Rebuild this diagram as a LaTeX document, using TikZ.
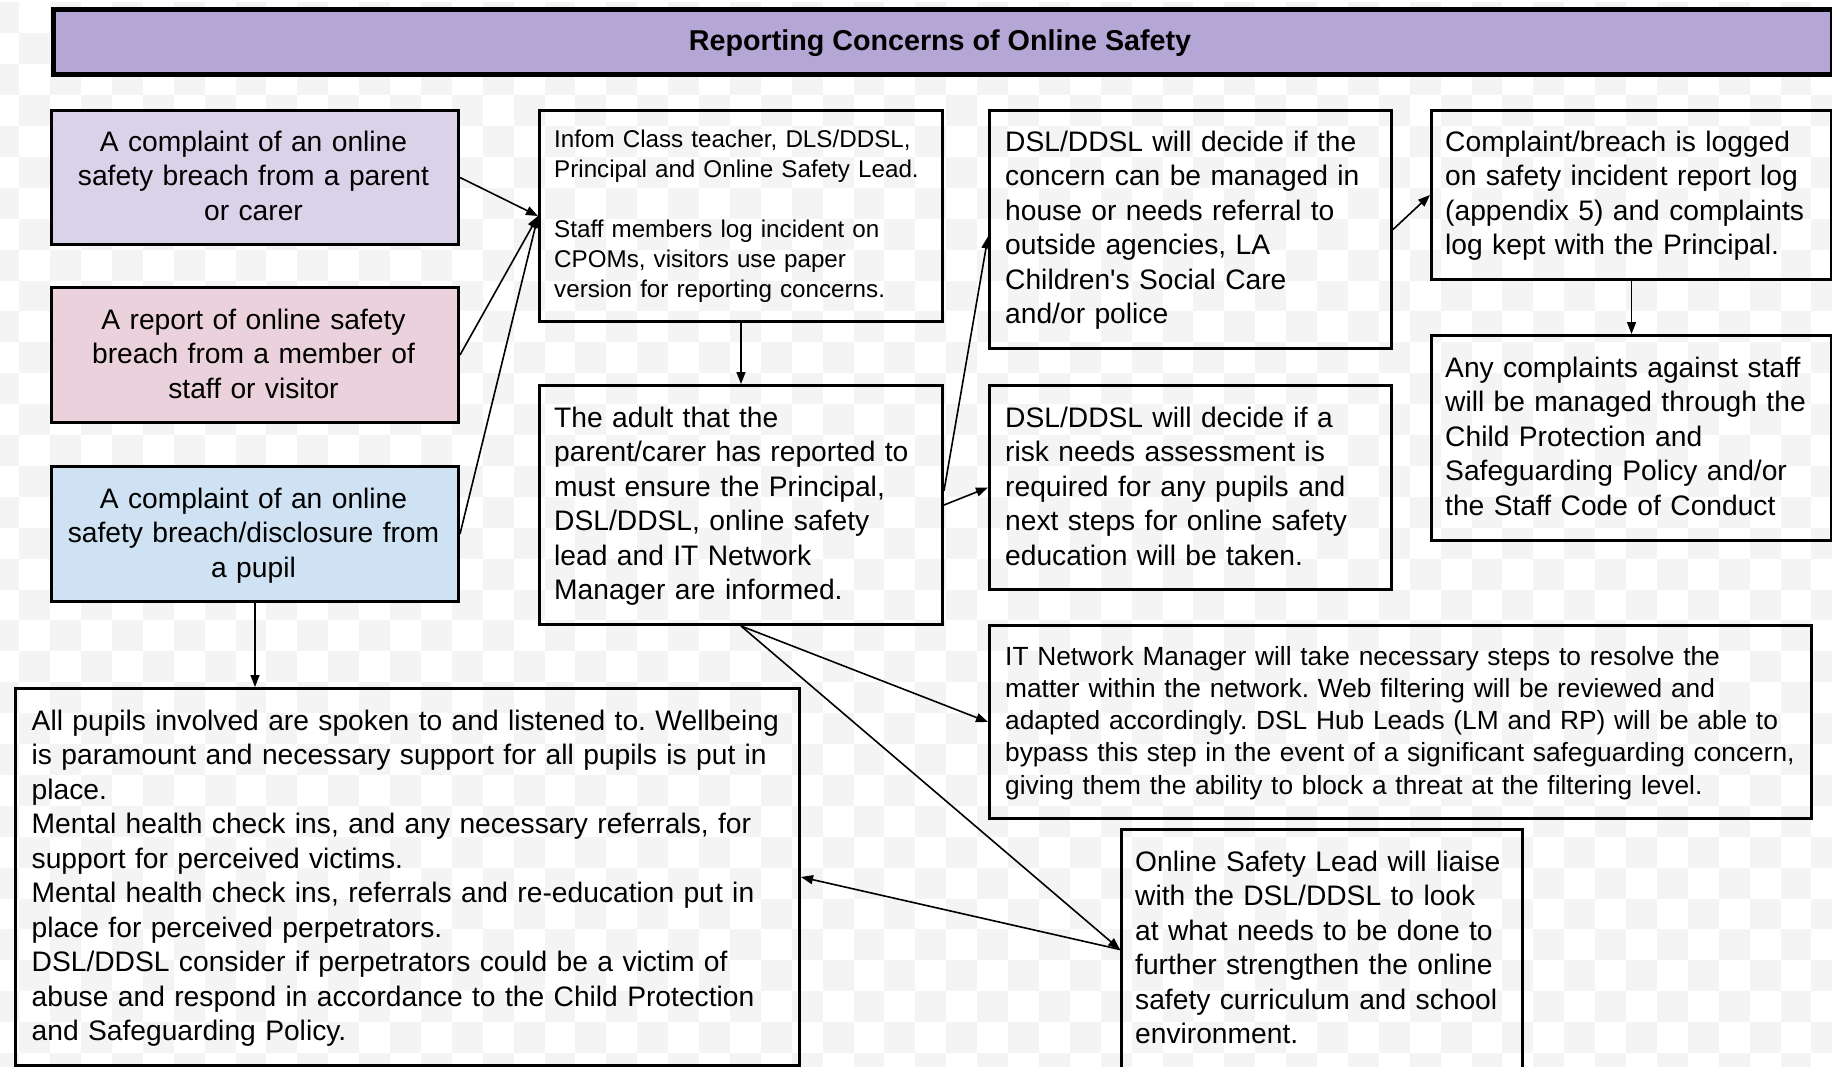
\documentclass[tikz,border=0pt]{standalone}
\usepackage{fontspec}
\setmainfont{Liberation Sans}
\usetikzlibrary{arrows.meta,calc}
\definecolor{titlefill}{HTML}{B4A7D6}
\definecolor{purplebox}{HTML}{D9D2E9}
\definecolor{pinkbox}{HTML}{EAD1DC}
\definecolor{bluebox}{HTML}{CFE2F3}
\definecolor{checkgray}{HTML}{F4F4F4}
\begin{document}
\frenchspacing
\hyphenpenalty=10000
\begin{tikzpicture}[x=1pt,y=-1pt,
  box/.style={draw=black, line width=3pt, inner sep=0pt, anchor=north west},
  txt/.style={inner sep=0pt, font=\fontsize{28.2}{34.5}\selectfont, align=left, text width=950pt, anchor=base west},
  ctxt/.style={inner sep=0pt, font=\fontsize{28.2}{34.5}\selectfont, align=center, text width=406pt, anchor=base},
  conn/.style={line width=1.6pt, -{Triangle[length=12pt,width=9pt]}}]
\clip (0,0) rectangle (1832,1066);
\fill[white] (0,0) rectangle (1832,1066);
% faint transparency checkerboard
\foreach \j in {0,...,35}{
  \pgfmathtruncatemacro\s{mod(\j,2)}
  \pgfmathtruncatemacro\t{\s+2}
  \foreach \i in {\s,\t,...,60}{
    \fill[checkgray] ({-11.7+\i*30.9},{2.4+\j*30.9}) rectangle ++(30.9,30.9);
  }
}
% title
\node[box, line width=4.5pt, fill=titlefill, minimum width=1779pt, minimum height=65pt] (title) at (51,7) {};
\node[inner sep=0pt, font=\bfseries\fontsize{28.7}{34.5}\selectfont, anchor=base] (titletext) at (940,50) {Reporting Concerns of Online Safety};
% left column
\node[box, fill=purplebox, minimum width=407pt, minimum height=134pt] (b1) at (50,109) {};
\node[box, fill=pinkbox, minimum width=407pt, minimum height=135pt] (b2) at (50,286) {};
\node[box, fill=bluebox, minimum width=407pt, minimum height=135pt] (b3) at (50,465) {};
\node[ctxt] (t1) at (253.5,151) {A complaint of an online\\safety breach from a parent\\or carer};
\node[ctxt] (t2) at (253.5,329) {A report of online safety\\breach from a member of\\staff or visitor};
\node[ctxt] (t3) at (253.5,508) {A complaint of an online\\safety breach/disclosure from\\a pupil};
% second column
\node[box, minimum width=403pt, minimum height=211pt] (b4) at (538,109) {};
\node[txt, font=\fontsize{24.2}{30}\selectfont] (t4) at (554,147.5) {Infom Class teacher, DLS/DDSL,\\Principal and Online Safety Lead.\\[30pt]Staff members log incident on\\CPOMs, visitors use paper\\version for reporting concerns.};
\node[box, minimum width=403pt, minimum height=239pt] (b5) at (538,384) {};
\node[txt] (t5) at (554,427) {The adult that the\\parent/carer has reported to\\must ensure the Principal,\\DSL/DDSL, online safety\\lead and IT Network\\Manager are informed.};
% third column
\node[box, minimum width=402pt, minimum height=238pt] (b6) at (988,109) {};
\node[txt] (t6) at (1005,151) {DSL/DDSL will decide if the\\concern can be managed in\\house or needs referral to\\outside agencies, LA\\Children\textquotesingle s Social Care\\and/or police};
\node[box, minimum width=402pt, minimum height=204pt] (b7) at (988,384) {};
\node[txt] (t7) at (1005,427) {DSL/DDSL will decide if a\\risk needs assessment is\\required for any pupils and\\next steps for online safety\\education will be taken.};
% fourth column
\node[box, minimum width=400pt, minimum height=169pt] (b8) at (1430,109) {};
\node[txt] (t8) at (1445,151) {Complaint/breach is logged\\on safety incident report log\\(appendix 5) and complaints\\log kept with the Principal.};
\node[box, minimum width=400pt, minimum height=205pt] (b9) at (1430,334) {};
\node[txt] (t9) at (1445,377) {Any complaints against staff\\will be managed through the\\Child Protection and\\Safeguarding Policy and/or\\the Staff Code of Conduct};
% lower boxes
\node[box, minimum width=822pt, minimum height=193pt] (b10) at (988,624) {};
\node[txt, font=\fontsize{26.3}{32.3}\selectfont] (t10) at (1005,665) {IT Network Manager will take necessary steps to resolve the\\matter within the network. Web filtering will be reviewed and\\adapted accordingly. DSL Hub Leads (LM and RP) will be able to\\bypass this step in the event of a significant safeguarding concern,\\giving them the ability to block a threat at the filtering level.};
\node[box, minimum width=401pt, minimum height=240pt] (b11) at (1120,828) {};
\node[txt] (t11) at (1135,871) {Online Safety Lead will liaise\\with the DSL/DDSL to look\\at what needs to be done to\\further strengthen the online\\safety curriculum and school\\environment.};
\node[box, minimum width=784pt, minimum height=377pt] (b12) at (14,687) {};
\node[txt] (t12) at (31.5,730) {All pupils involved are spoken to and listened to. Wellbeing\\is paramount and necessary support for all pupils is put in\\place.\\Mental health check ins, and any necessary referrals, for\\support for perceived victims.\\Mental health check ins, referrals and re-education put in\\place for perceived perpetrators.\\DSL/DDSL consider if perpetrators could be a victim of\\abuse and respond in accordance to the Child Protection\\and Safeguarding Policy.};
% connectors
\draw[conn] (b1.east) -- (b4.west);
\draw[conn] (b2.east) -- (b4.west);
\draw[conn] (b3.east) -- (b4.west);
\draw[conn] (b4.south) -- (b5.north);
\draw[conn] (b5.4) -- (b6.182);
\draw[conn] (b5.east) -- (b7.west);
\draw[conn] (b6.east) -- (b8.west);
\draw[conn] (b8.south) -- (b9.north);
\draw[conn] (b3.south) -- (b3.south |- b12.north);
\draw[conn] (b5.south) -- (b10.west);
\draw[conn] (b5.south) -- (b11.west);
\draw[conn] (b11.west) -- (b12.east);
\end{tikzpicture}
\end{document}
